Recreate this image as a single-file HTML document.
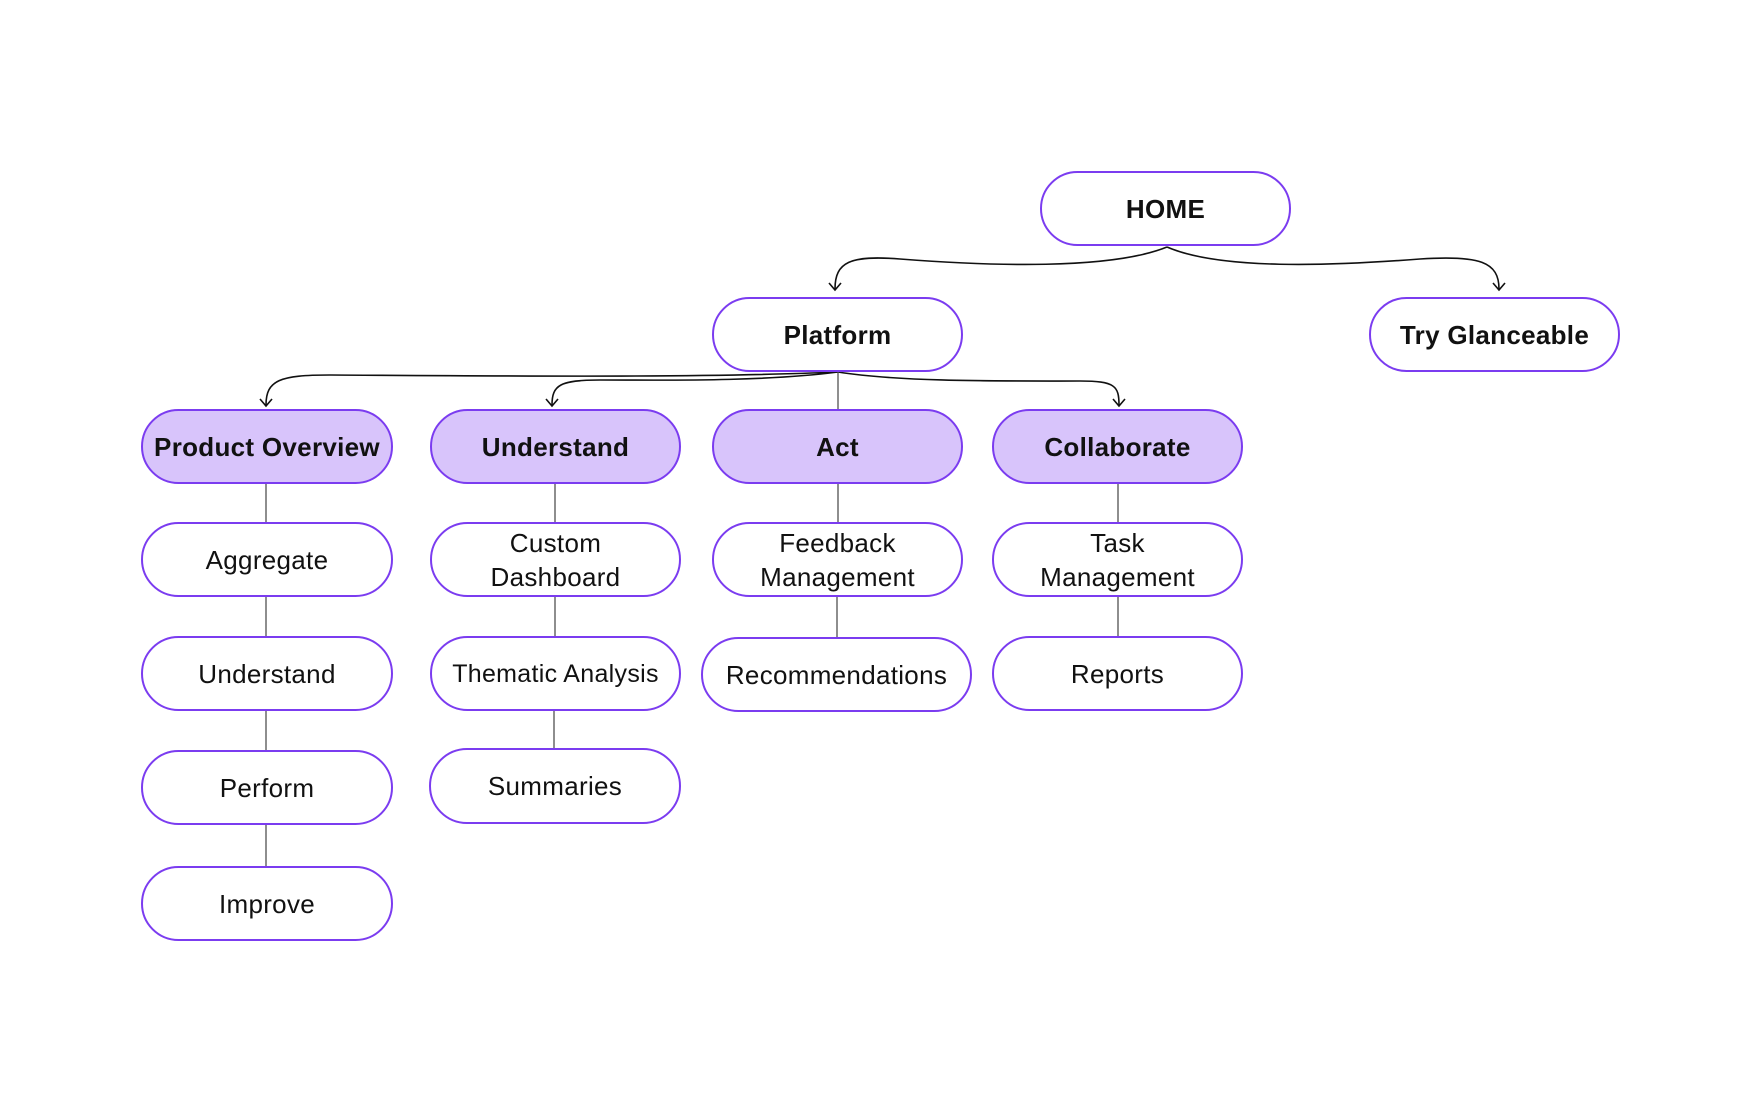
<!DOCTYPE html>
<html><head><style>
body{margin:0;width:1755px;height:1108px;background:#fff;position:relative;overflow:hidden;font-family:"Liberation Sans",sans-serif}
.b{position:absolute;box-sizing:border-box;border:2px solid #7b3cf0;border-radius:38px;background:#fff;display:flex;align-items:center;justify-content:center;text-align:center;font-size:26px;color:#111;line-height:34px;letter-spacing:0.3px}
.p{background:#d8c4fb;font-weight:bold}
.t{font-weight:bold}
svg{position:absolute;left:0;top:0}
</style></head><body>
<svg width="1755" height="1108" fill="none" stroke="#111" stroke-width="1.6">
<path d="M1167,247 C1110,270 990,266 900,259 C850,255 835,262 835,289"/>
<path d="M829,283 L835,290 L841,283"/>
<path d="M1167,247 C1220,270 1330,266 1420,259 C1480,255 1499,262 1499,289"/>
<path d="M1493,283 L1499,290 L1505,283"/>
<path d="M838,372 C700,378 500,376 330,375 C280,375 266,380 266,405"/>
<path d="M260,399 L266,406 L272,399"/>
<path d="M838,372 C760,382 660,380 600,380 C560,380 552,385 552,405"/>
<path d="M546,399 L552,406 L558,399"/>
<path d="M838,372 C900,382 1000,381 1080,381 C1115,381 1119,386 1119,405"/>
<path d="M1113,399 L1119,406 L1125,399"/>
<g stroke="#444" stroke-width="1.2">
<path d="M838,372 V409"/>
<path d="M266,484 V522 M266,596 V636 M266,710 V750 M266,825 V866"/>
<path d="M555,484 V522 M555,596 V636 M554,710 V748"/>
<path d="M838,484 V522 M837,596 V637"/>
<path d="M1118,484 V522 M1118,596 V636"/>
</g>
</svg>
<div class="b t" style="left:1040px;top:171px;width:251px;height:75px">HOME</div>
<div class="b t" style="left:712px;top:297px;width:251px;height:75px">Platform</div>
<div class="b t" style="left:1369px;top:297px;width:251px;height:75px">Try Glanceable</div>
<div class="b p" style="left:141px;top:409px;width:252px;height:75px">Product Overview</div>
<div class="b p" style="left:430px;top:409px;width:251px;height:75px">Understand</div>
<div class="b p" style="left:712px;top:409px;width:251px;height:75px">Act</div>
<div class="b p" style="left:992px;top:409px;width:251px;height:75px">Collaborate</div>
<div class="b" style="left:141px;top:522px;width:252px;height:75px">Aggregate</div>
<div class="b" style="left:430px;top:522px;width:251px;height:75px">Custom<br>Dashboard</div>
<div class="b" style="left:712px;top:522px;width:251px;height:75px">Feedback<br>Management</div>
<div class="b" style="left:992px;top:522px;width:251px;height:75px">Task<br>Management</div>
<div class="b" style="left:141px;top:636px;width:252px;height:75px">Understand</div>
<div class="b" style="left:430px;top:636px;width:251px;height:75px;font-size:25px">Thematic Analysis</div>
<div class="b" style="left:701px;top:637px;width:271px;height:75px">Recommendations</div>
<div class="b" style="left:992px;top:636px;width:251px;height:75px">Reports</div>
<div class="b" style="left:141px;top:750px;width:252px;height:75px">Perform</div>
<div class="b" style="left:429px;top:748px;width:252px;height:76px">Summaries</div>
<div class="b" style="left:141px;top:866px;width:252px;height:75px">Improve</div>
</body></html>
